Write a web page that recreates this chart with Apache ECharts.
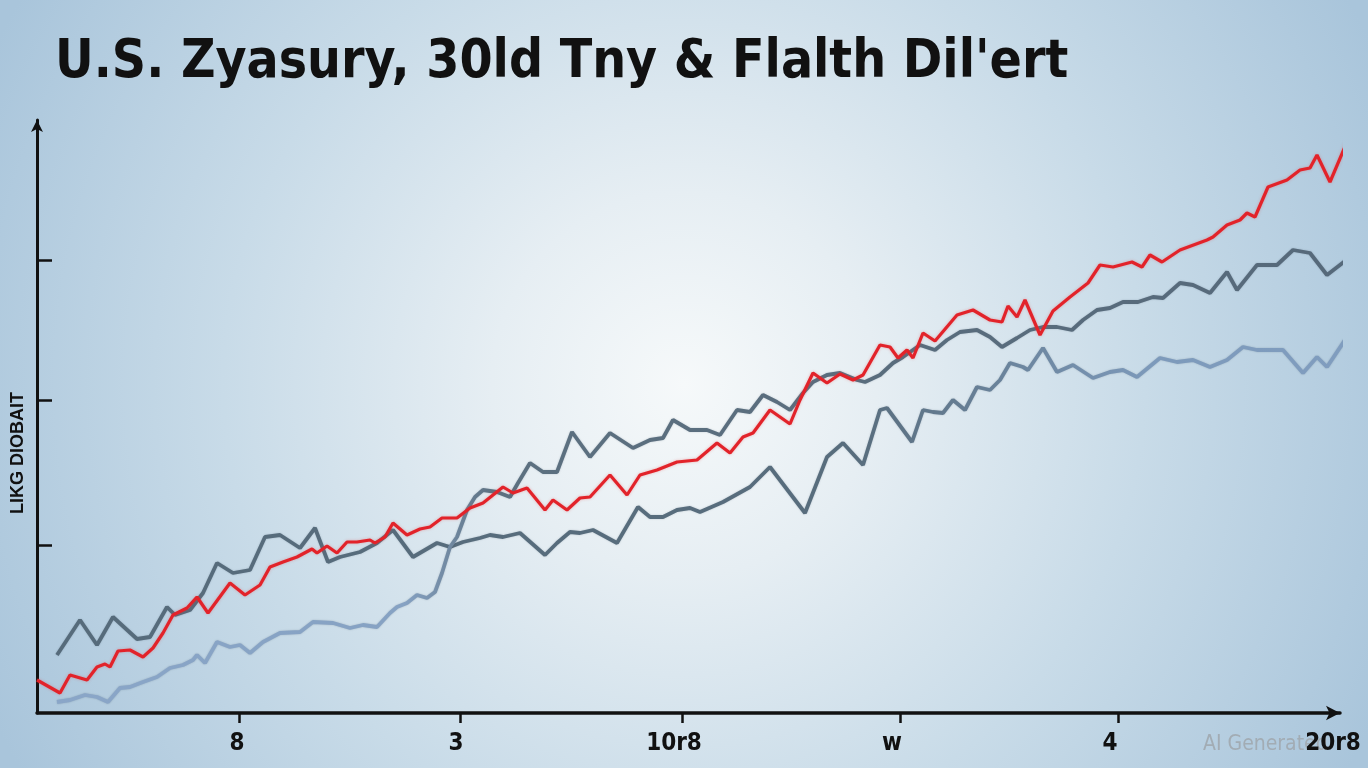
<!DOCTYPE html>
<html>
<head>
<meta charset="utf-8">
<script src="https://cdn.jsdelivr.net/npm/echarts@6/dist/echarts.min.js"></script>
<style>
html,body{margin:0;padding:0;width:1368px;height:768px;overflow:hidden;}
#chart{width:1368px;height:768px;}
</style>
</head>
<body>
<div id="chart"></div>
<script>
// ---- texts ----
const titleText = "U.S. Zyasury, 30ld Tny & Flalth Dil'ert";
const yAxisTitle = "LIKG DIOBAIT";
const watermarkText = "AI Generated";

// ---- x-axis tick labels ----
const xLabelValues = [20.0, 41.9, 63.7, 85.5, 107.3, 129.6];
const xLabelTexts  = ["8", "3", "10r8", "w", "4", "20r8"];
const xTickValues  = [20.2, 42.3, 64.5, 86.3, 108.1];
// ---- y-axis tick marks (no labels) ----
const yTickValues  = [16.8, 31.3, 45.3];

// ---- series values: [x, y] ----
const redLine = [
 [0,3.3],[2.3,2.0],[3.3,3.8],[5.0,3.3],[6.0,4.6],[6.8,4.9],[7.3,4.6],[8.1,6.2],[9.3,6.3],[10.6,5.6],
 [11.6,6.5],[12.6,8.0],[13.6,9.8],[15.0,10.5],[16.0,11.6],[17.1,10.0],[19.3,13.0],[20.8,11.8],[22.3,12.8],[23.3,14.6],
 [24.6,15.1],[26.0,15.6],[27.5,16.4],[28.0,16.0],[29.0,16.7],[30.0,16.0],[31.0,17.1],[32.0,17.1],[33.3,17.3],[33.8,17.0],
 [34.8,17.6],[35.6,19.0],[37.0,17.8],[38.3,18.4],[39.3,18.6],[40.5,19.5],[42.0,19.5],[43.3,20.5],[44.6,21.0],[46.6,22.6],
 [47.6,22.0],[49.0,22.5],[50.8,20.3],[51.6,21.3],[53.0,20.3],[54.3,21.5],[55.3,21.6],[57.3,23.8],[59.0,21.8],[60.3,23.8],
 [62.0,24.3],[64.0,25.1],[66.0,25.3],[68.0,27.0],[69.3,26.0],[70.6,27.6],[71.6,28.0],[73.3,30.3],[75.3,28.9],[76.3,31.3],
 [77.6,34.0],[79.0,33.0],[80.3,33.9],[81.6,33.3],[82.6,33.8],[84.3,36.8],[85.3,36.6],[86.1,35.5],[87.0,36.3],[87.6,35.5],
 [88.6,38.0],[89.8,37.2],[92.0,39.8],[93.6,40.3],[95.3,39.3],[96.5,39.1],[97.1,40.7],[98.0,39.6],[98.8,41.3],[100.3,37.8],
 [101.6,40.2],[103.3,41.6],[105.1,43.0],[106.3,44.8],[107.6,44.6],[109.5,45.1],[110.5,44.6],[111.3,45.8],[112.5,45.1],[114.3,46.3],
 [117.0,47.3],[117.6,47.6],[119.0,48.8],[120.3,49.3],[121.0,50.0],[121.8,49.6],[123.1,52.6],[125.0,53.3],[126.3,54.3],[127.3,54.5],
 [128.0,55.8],[129.3,53.1],[131.0,57.1]
];
const slateLine = [
 [2.0,5.8],[4.3,9.3],[6.0,6.8],[7.6,9.6],[10.0,7.4],[11.3,7.6],[13.0,10.6],[13.8,9.8],[15.3,10.3],[16.6,12.0],
 [18.0,15.0],[19.6,14.0],[21.3,14.3],[22.8,17.6],[24.3,17.8],[26.3,16.5],[27.8,18.5],[29.1,15.1],[30.3,15.6],[32.3,16.1],
 [34.0,17.0],[35.6,18.3],[37.6,15.6],[40.0,17.0],[41.3,16.6],[42.6,17.1],[44.3,17.5],[45.3,17.8],[46.6,17.6],[48.3,18.0],
 [50.8,15.8],[52.0,17.0],[53.3,18.1],[54.3,18.0],[55.6,18.3],[58.0,17.0],[60.1,20.6],[61.3,19.6],[62.6,19.6],[64.0,20.3],
 [65.3,20.5],[66.3,20.1],[68.6,21.1],[71.3,22.6],[73.3,24.6],[76.8,20.0],[79.0,25.6],[80.6,27.0],[82.6,24.8],[84.3,30.3],
 [85.0,30.5],[87.5,27.1],[88.6,30.3],[89.6,30.1],[90.6,30.0],[91.6,31.3],[92.8,30.3],[94.0,32.6],[95.3,32.3],[96.3,33.3],
 [97.3,35.0],[98.6,34.6],[99.1,34.3],[100.6,36.5],[102.0,34.1],[103.6,34.8],[105.6,33.5],[107.3,34.1],[108.6,34.3],[110.0,33.6],
 [112.3,35.5],[114.0,35.1],[115.6,35.3],[117.3,34.6],[119.0,35.3],[120.6,36.6],[122.0,36.3],[124.6,36.3],[126.6,34.0],[128.0,35.6],
 [129.0,34.6],[130.8,37.3]
];
const blueLine = [
 [2.0,1.1],[3.3,1.3],[4.8,1.8],[6.0,1.6],[7.1,1.1],[8.3,2.5],[9.3,2.6],[10.6,3.1],[12.0,3.6],[13.3,4.5],
 [14.6,4.8],[15.6,5.3],[16.0,5.8],[16.8,5.0],[18.0,7.1],[19.3,6.6],[20.3,6.8],[21.3,6.0],[22.6,7.1],[24.3,8.0],
 [26.3,8.1],[27.6,9.1],[29.6,9.0],[31.3,8.5],[32.6,8.8],[34.0,8.6],[35.3,10.0],[36.0,10.6],[37.0,11.0],[38.0,11.8],
 [39.0,11.5],[39.8,12.1],[40.5,14.0],[41.3,16.6],[42.0,17.6],[43.0,20.3],[43.8,21.6],[44.6,22.3],[46.0,22.1],[47.3,21.6],
 [48.1,23.0],[49.3,25.0],[50.6,24.1],[52.0,24.1],[53.5,28.1],[55.3,25.6],[57.3,28.0],[59.6,26.5],[61.3,27.3],[62.6,27.5],
 [63.6,29.3],[65.3,28.3],[67.0,28.3],[68.3,27.8],[70.0,30.3],[71.3,30.1],[72.6,31.8],[74.0,31.1],[75.3,30.3],[76.6,32.0],
 [77.6,33.1],[79.0,33.8],[80.3,34.0],[82.0,33.3],[82.8,33.1],[84.3,33.8],[85.6,35.0],[86.6,35.6],[88.3,36.8],[89.8,36.3],
 [91.0,37.3],[92.3,38.1],[94.0,38.3],[95.3,37.6],[96.5,36.6],[98.0,37.5],[99.3,38.3],[100.6,38.6],[102.0,38.6],[103.5,38.3],
 [104.6,39.3],[106.0,40.3],[107.3,40.5],[108.6,41.1],[110.1,41.1],[111.6,41.6],[112.6,41.5],[114.3,43.0],[115.6,42.8],[117.3,42.0],
 [119.0,44.1],[120.0,42.3],[122.0,44.8],[124.0,44.8],[125.6,46.3],[127.3,46.0],[129.0,43.8],[130.8,45.2]
];

const chart = echarts.init(document.getElementById('chart'), null, {renderer: 'canvas'});

function grad(stops) {
  return new echarts.graphic.LinearGradient(0, 0, 1, 0, stops.map(s => ({offset: s[0], color: s[1]})));
}

const option = {
  animation: false,
  backgroundColor: {
    type: 'radial', x: 0.5, y: 0.5, r: 1.0,
    colorStops: [
      {offset: 0, color: '#f6f9fa'},
      {offset: 0.25, color: '#e6eef3'},
      {offset: 0.6, color: '#c8dbe8'},
      {offset: 1, color: '#a9c5db'}
    ]
  },
  grid: {left: 37, right: 28, top: 120, bottom: 55, containLabel: false},
  xAxis: {
    type: 'value', min: 0, max: 130.3, z: 10,
    splitLine: {show: false},
    axisLine: {show: true, onZero: false, symbol: ['none', 'arrow'], symbolSize: [11, 14],
      lineStyle: {color: '#111', width: 3.5}},
    axisTick: {show: true, customValues: xTickValues, length: 10, inside: false,
      lineStyle: {color: '#111', width: 2.5}},
    axisLabel: {show: true, customValues: xLabelValues, margin: 19,
      formatter: function (v) { const i = xLabelValues.indexOf(v); return i >= 0 ? xLabelTexts[i] : ''; },
      color: '#111', fontSize: 24, fontWeight: 'bold',
      fontFamily: "'DejaVu Sans Condensed', 'Liberation Sans', sans-serif"}
  },
  yAxis: {
    type: 'value', min: 0, max: 59.3,
    splitLine: {show: false},
    axisLine: {show: true, onZero: false, symbol: ['none', 'arrow'], symbolSize: [9, 12],
      lineStyle: {color: '#111', width: 3}},
    axisTick: {show: true, customValues: yTickValues, inside: true, length: 15,
      lineStyle: {color: '#111', width: 2.5}},
    axisLabel: {show: false}
  },
  graphic: [
    {type: 'text', left: 55, top: 37, z: 5,
      style: {text: titleText, fill: '#111', fontSize: 53, fontWeight: 'bold',
        fontFamily: "'DejaVu Sans Condensed', sans-serif"}},
    {type: 'text', x: 18, y: 453, rotation: Math.PI / 2, z: 5,
      style: {text: yAxisTitle, fill: '#111', fontSize: 18, fontWeight: 'bold',
        align: 'center', verticalAlign: 'middle',
        fontFamily: "'Liberation Sans', 'DejaVu Sans', sans-serif"}},
    {type: 'text', x: 1203, y: 745, z: 1,
      style: {text: watermarkText, fill: '#a2acb4', fontSize: 21,
        align: 'left', verticalAlign: 'middle',
        fontFamily: "'DejaVu Sans Condensed', sans-serif"}}
  ],
  series: [
    {name: 'Slate', type: 'line', data: slateLine, showSymbol: false, clip: false, z: 3,
      lineStyle: {width: 3.8, color: grad([[0,'#566b7b'],[0.62,'#586d7d'],[0.85,'#7d9abb'],[1,'#809dbf']]),
        shadowBlur: 2, shadowColor: 'rgba(40,60,80,0.25)'}},
    {name: 'Blue', type: 'line', data: blueLine, showSymbol: false, clip: false, z: 3,
      lineStyle: {width: 3.8, color: grad([[0,'#8aa6c8'],[0.27,'#86a2c3'],[0.34,'#5c7080'],[1,'#56697a']]),
        shadowBlur: 2, shadowColor: 'rgba(40,60,80,0.25)'}},
    {name: 'Red', type: 'line', data: redLine, showSymbol: false, clip: false, z: 4,
      lineStyle: {width: 3.2, color: '#e2232a', shadowBlur: 3, shadowColor: 'rgba(230,60,60,0.35)'}}
  ]
};
chart.setOption(option);
</script>
</body>
</html>
